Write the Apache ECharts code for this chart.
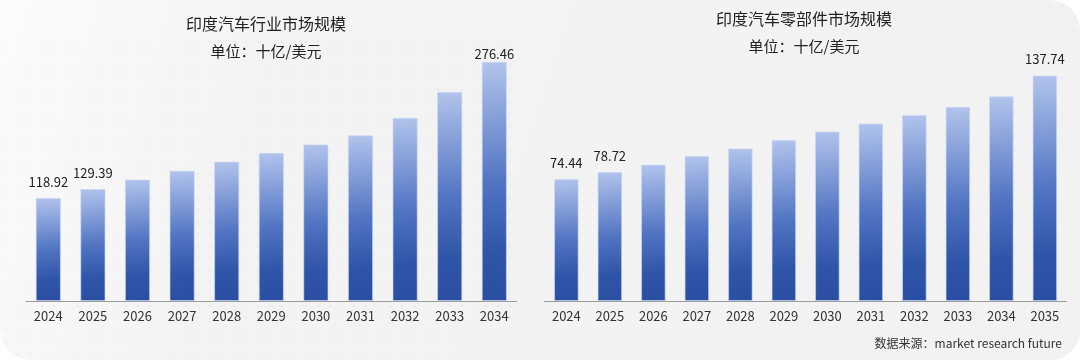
<!DOCTYPE html>
<html>
<head>
<meta charset="utf-8">
<script src="https://cdn.jsdelivr.net/npm/echarts@6/dist/echarts.min.js"></script>
<style>
html,body{margin:0;padding:0;background:#ffffff;}
#chart{width:1080px;height:360px;}
</style>
</head>
<body>
<div id="chart"></div>
<script>
// ---- data ----
var marketYears = ['2024','2025','2026','2027','2028','2029','2030','2031','2032','2033','2034'];
var marketValues = [118.92, 129.39, 140.4, 150.6, 161.1, 171.2, 181.0, 191.5, 211.8, 241.7, 276.46];
var marketLabeled = [0, 1, 10];

var partsYears = ['2024','2025','2026','2027','2028','2029','2030','2031','2032','2033','2034','2035'];
var partsValues = [74.44, 78.72, 83.3, 88.5, 93.2, 98.4, 103.6, 108.5, 113.6, 118.6, 125.1, 137.74];
var partsLabeled = [0, 1, 11];

var titleLeft = '印度汽车行业市场规模';
var titleRight = '印度汽车零部件市场规模';
var unitText = '单位：十亿/美元';
var sourceText = '数据来源：market research future';

// ---- rendering ----
var FONT = '"Noto Sans CJK SC", "Noto Sans", sans-serif';
var chart = echarts.init(document.getElementById('chart'), null, {renderer: 'canvas'});

function dotPattern() {
  var c = document.createElement('canvas');
  c.width = 12; c.height = 12;
  var ctx = c.getContext('2d');
  ctx.fillStyle = 'rgba(0,0,0,0.07)';
  ctx.beginPath(); ctx.arc(6, 6, 1.1, 0, Math.PI * 2); ctx.fill();
  return c;
}
var dots = dotPattern();

var barColor = new echarts.graphic.LinearGradient(0, 0, 0.35, 1, [
  {offset: 0, color: '#b2c4ec'},
  {offset: 0.5, color: '#5275c3'},
  {offset: 0.8, color: '#2f55a8'},
  {offset: 1, color: '#2a4ea2'}
]);

function buildData(values, labeled, tightIdx) {
  return values.map(function (v, i) {
    if (labeled.indexOf(i) >= 0) {
      return {value: v, label: {show: true, distance: (i === tightIdx ? 1 : 10)}};
    }
    return v;
  });
}

var option = {
  backgroundColor: '#ffffff',
  animation: false,
  graphic: [
    {type: 'rect', z: -10, shape: {x: 0, y: 0, width: 1080, height: 360, r: [0, 30, 30, 30]},
     style: {fill: new echarts.graphic.LinearGradient(0, 0, 1, 1, [
       {offset: 0, color: '#fbfbfb'}, {offset: 0.25, color: '#f3f3f3'}, {offset: 1, color: '#f2f2f2'}])}},
    {type: 'rect', z: -9, shape: {x: 0, y: 40, width: 520, height: 320, r: [0, 0, 0, 30]},
     style: {fill: {image: dots, repeat: 'repeat'}, opacity: 0.8}},
    {type: 'rect', z: -9, shape: {x: 820, y: 0, width: 260, height: 150, r: [0, 30, 0, 0]},
     style: {fill: {image: dots, repeat: 'repeat'}, opacity: 0.7}},
    {type: 'text', x: 266, y: 24, style: {text: titleLeft, fill: '#222', font: '16px ' + FONT, textAlign: 'center', textVerticalAlign: 'middle'}},
    {type: 'text', x: 266, y: 51, style: {text: unitText, fill: '#222', font: '15px ' + FONT, textAlign: 'center', textVerticalAlign: 'middle'}},
    {type: 'text', x: 804, y: 19, style: {text: titleRight, fill: '#222', font: '16px ' + FONT, textAlign: 'center', textVerticalAlign: 'middle'}},
    {type: 'text', x: 804, y: 46, style: {text: unitText, fill: '#222', font: '15px ' + FONT, textAlign: 'center', textVerticalAlign: 'middle'}},
    {type: 'text', x: 1062, y: 343, style: {text: sourceText, fill: '#333', font: '12px ' + FONT, textAlign: 'right', textVerticalAlign: 'middle'}}
  ],
  grid: [
    {left: 26, right: 563.4, top: 41.6, bottom: 59},
    {left: 544.6, right: 13.4, top: 55.6, bottom: 59}
  ],
  xAxis: [
    {type: 'category', gridIndex: 0, data: marketYears,
     axisLine: {lineStyle: {color: '#9a9a9a', width: 1}}, axisTick: {show: false},
     axisLabel: {color: '#333', fontSize: 13, fontFamily: FONT, margin: 9}},
    {type: 'category', gridIndex: 1, data: partsYears,
     axisLine: {lineStyle: {color: '#9a9a9a', width: 1}}, axisTick: {show: false},
     axisLabel: {color: '#333', fontSize: 13, fontFamily: FONT, margin: 9}}
  ],
  yAxis: [
    {type: 'value', gridIndex: 0, min: 0, max: 300, show: false, splitLine: {show: false}},
    {type: 'value', gridIndex: 1, min: 0, max: 150, show: false, splitLine: {show: false}}
  ],
  series: [
    {type: 'bar', xAxisIndex: 0, yAxisIndex: 0, barWidth: '56%',
     data: buildData(marketValues, marketLabeled, 10),
     itemStyle: {color: barColor, borderColor: 'rgba(200,214,242,0.8)', borderWidth: 0.8},
     label: {show: false, position: 'top', color: '#222', fontSize: 13, fontFamily: FONT}},
    {type: 'bar', xAxisIndex: 1, yAxisIndex: 1, barWidth: '56%',
     data: buildData(partsValues, partsLabeled, -1),
     itemStyle: {color: barColor, borderColor: 'rgba(200,214,242,0.8)', borderWidth: 0.8},
     label: {show: false, position: 'top', color: '#222', fontSize: 13, fontFamily: FONT}}
  ]
};
chart.setOption(option);
</script>
</body>
</html>
